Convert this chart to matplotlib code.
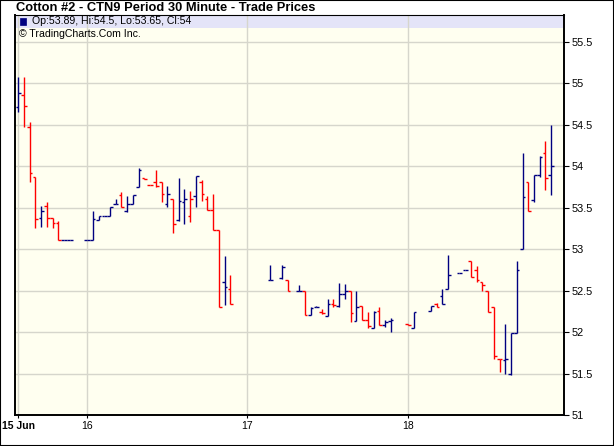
import numpy as np
import matplotlib
matplotlib.use("Agg")
from matplotlib import pyplot as plt
from matplotlib.patches import Rectangle

# ----------------------------- Dados (barras 30 min) ----------------------------- #
# posicao = indice do slot de 30 min na sessao (buracos = sem negocio)
slots = [0, 1, 2, 3, 4, 5, 6, 7, 8, 9, 12, 13, 14, 15, 16, 17, 18, 19, 20, 21,
         22, 23, 24, 25, 26, 27, 28, 29, 30, 31, 32, 33, 34, 35, 36, 37,
         44, 46, 47, 49, 50, 51, 52, 53, 54, 55, 56, 57, 58, 59, 60, 61, 62, 63, 64, 65,
         68, 69, 72, 73, 74, 75, 77, 78, 79, 80, 81, 82, 83, 84, 85, 86, 87,
         88, 89, 90, 91, 92, 93]
abertura = [54.71, 54.86, 54.47, 53.87, 53.38, 53.52, 53.38, 53.32, 53.11, 53.11,
            53.11, 53.11, 53.35, 53.40, 53.40, 53.55, 53.65, 53.46, 53.55, 53.75,
            53.86, 53.78, 53.81, 53.81, 53.55, 53.60, 53.35, 53.57, 53.40, 53.64,
            53.81, 53.61, 53.47, 53.23, 52.60, 52.52,
            52.63, 52.65, 52.63, 52.50, 52.50, 52.21, 52.30, 52.24, 52.20, 52.34,
            52.32, 52.46, 52.49, 52.13, 52.31, 52.14, 52.05, 52.26, 52.09, 52.13,
            52.10, 52.05, 52.25, 52.34, 52.44, 52.52, 52.71, 52.75, 52.86, 52.75,
            52.61, 52.50, 52.30, 51.68, 51.66, 51.50, 51.99,
            53.00, 53.81, 53.59, 53.90, 54.16, 53.89]
maximas = [55.08, 55.08, 54.53, 53.87, 53.52, 53.57, 53.38, 53.34, 53.11, 53.11,
           53.11, 53.46, 53.40, 53.40, 53.51, 53.60, 53.69, 53.64, 53.65, 53.98,
           53.86, 53.78, 53.95, 53.81, 53.76, 53.60, 53.86, 53.73, 53.70, 53.88,
           53.83, 53.64, 53.67, 53.23, 52.92, 52.69,
           52.81, 52.81, 52.63, 52.57, 52.50, 52.30, 52.31, 52.28, 52.40, 52.40,
           52.59, 52.58, 52.50, 52.49, 52.31, 52.24, 52.26, 52.30, 52.14, 52.17,
           52.10, 52.24, 52.32, 52.35, 52.52, 52.93, 52.71, 52.75, 52.86, 52.80,
           52.61, 52.50, 52.30, 51.68, 52.10, 51.99, 52.86,
           54.16, 53.81, 53.90, 54.12, 54.30, 54.50]
minimas = [54.65, 54.47, 53.81, 53.25, 53.27, 53.27, 53.26, 53.11, 53.11, 53.11,
           53.11, 53.11, 53.35, 53.40, 53.40, 53.55, 53.51, 53.45, 53.55, 53.75,
           53.85, 53.77, 53.75, 53.57, 53.51, 53.20, 53.34, 53.31, 53.33, 53.51,
           53.58, 53.47, 53.23, 52.30, 52.33, 52.34,
           52.63, 52.64, 52.50, 52.50, 52.21, 52.21, 52.30, 52.22, 52.20, 52.30,
           52.30, 52.40, 52.12, 52.13, 52.14, 52.05, 52.05, 52.08, 52.06, 52.00,
           52.09, 52.05, 52.25, 52.30, 52.34, 52.52, 52.71, 52.75, 52.66, 52.61,
           52.50, 52.24, 51.68, 51.52, 51.50, 51.48, 51.99,
           53.00, 53.46, 53.57, 53.87, 53.72, 53.65]
fechamento = [54.89, 54.73, 53.92, 53.36, 53.46, 53.38, 53.32, 53.11, 53.11, 53.11,
              53.11, 53.36, 53.40, 53.40, 53.51, 53.55, 53.51, 53.55, 53.65, 53.96,
              53.85, 53.77, 53.76, 53.66, 53.66, 53.30, 53.58, 53.61, 53.60, 53.88,
              53.67, 53.47, 53.23, 52.30, 52.54, 52.34,
              52.63, 52.79, 52.50, 52.50, 52.21, 52.29, 52.30, 52.23, 52.34, 52.33,
              52.46, 52.50, 52.23, 52.30, 52.14, 52.07, 52.24, 52.08, 52.12, 52.15,
              52.09, 52.24, 52.32, 52.30, 52.34, 52.69, 52.71, 52.75, 52.66, 52.63,
              52.57, 52.24, 51.71, 51.67, 51.68, 51.99, 52.75,
              53.63, 53.46, 53.90, 54.11, 53.86, 54.00]

dias_pos = [0, 12, 40, 68]
dias_rot = ["15 Jun", "16", "17", "18"]
precos_ticks = [51, 51.5, 52, 52.5, 53, 53.5, 54, 54.5, 55, 55.5]

titulo = "Cotton #2 - CTN9 Period 30 Minute - Trade Prices"
legenda = "Op:53.89, Hi:54.5, Lo:53.65, Cl:54"
credito = "\u00a9 TradingCharts.Com Inc."

# ------------------------------- Figura ------------------------------------ #
W, H = 614, 446
fig = plt.figure(figsize=(W / 100, H / 100), dpi=100)
fig.patch.set_facecolor("white")

esq, dir_, topo, base = 14.7, 564, 15, 415
ax = fig.add_axes([esq / W, (H - base) / H, (dir_ - esq) / W, (base - topo) / H])
ax.set_facecolor("#FFFFF0")
ax.set_xlim(-0.63, 95.24)
ax.set_ylim(51, 51 + (base - topo) / 82.9)

x = np.array(slots, dtype=float)
o = np.array(abertura)
c = np.array(fechamento)
# cor pela variacao do fechamento anterior
cores = ["#000080"] + ["#000080" if c[i] >= c[i - 1] else "#FF0000" for i in range(1, len(c))]

w = 0.47
lw = 1.0
ax.vlines(x, minimas, maximas, colors=cores, lw=lw, zorder=3)
ax.hlines(o, x - w, x, colors=cores, lw=lw, zorder=3)
ax.hlines(c, x, x + w, colors=cores, lw=lw, zorder=3)

# grade
ax.set_axisbelow(True)
ax.set_yticks(precos_ticks)
ax.set_yticklabels([f"{p:g}" for p in precos_ticks])
ax.set_xticks(dias_pos)
ax.set_xticklabels(dias_rot)
ax.grid(True, color="#D6D6CC", lw=1.0)
ax.yaxis.tick_right()
ax.tick_params(axis="y", direction="out", length=3.5, width=0.8, pad=2,
               labelsize=7.8, labelfontfamily="Liberation Sans")
ax.tick_params(axis="x", direction="out", length=2.5, width=0.8, pad=2,
               labelsize=7.5, labelfontfamily="Liberation Sans")
ax.get_xticklabels()[0].set_fontweight("bold")

for lado in ["left", "bottom", "right"]:
    ax.spines[lado].set_linewidth(1.4)
ax.spines["top"].set_linewidth(0.8)

# faixa da legenda
alt_faixa = 12.5 / (base - topo)
ax.add_patch(Rectangle((0, 1 - alt_faixa), 1, alt_faixa, transform=ax.transAxes,
                       facecolor="#E4E4F8", edgecolor="none", zorder=0.2))
ax.add_patch(Rectangle((5.5 / (dir_ - esq), 1 - 9.5 / (base - topo)),
                       6 / (dir_ - esq), 6 / (base - topo), transform=ax.transAxes,
                       facecolor="#000080", edgecolor="#000080", lw=0.5, zorder=4))

fig.text(32 / W, 1 - 21.5 / H, legenda, fontsize=7.6, family="Liberation Sans",
         va="center", ha="left")
fig.text(19 / W, 1 - 34 / H, credito, fontsize=7.6, family="Liberation Sans",
         va="center", ha="left")
fig.text(16 / W, 1 - 8 / H, titulo, fontsize=9.3, family="Liberation Sans",
         fontweight="bold", va="center", ha="left")

# borda externa
fig.patches.append(Rectangle((0, 0), 1, 1, transform=fig.transFigure, fill=False,
                             edgecolor="black", lw=1.5))

fig.savefig("out.png", dpi=100)
